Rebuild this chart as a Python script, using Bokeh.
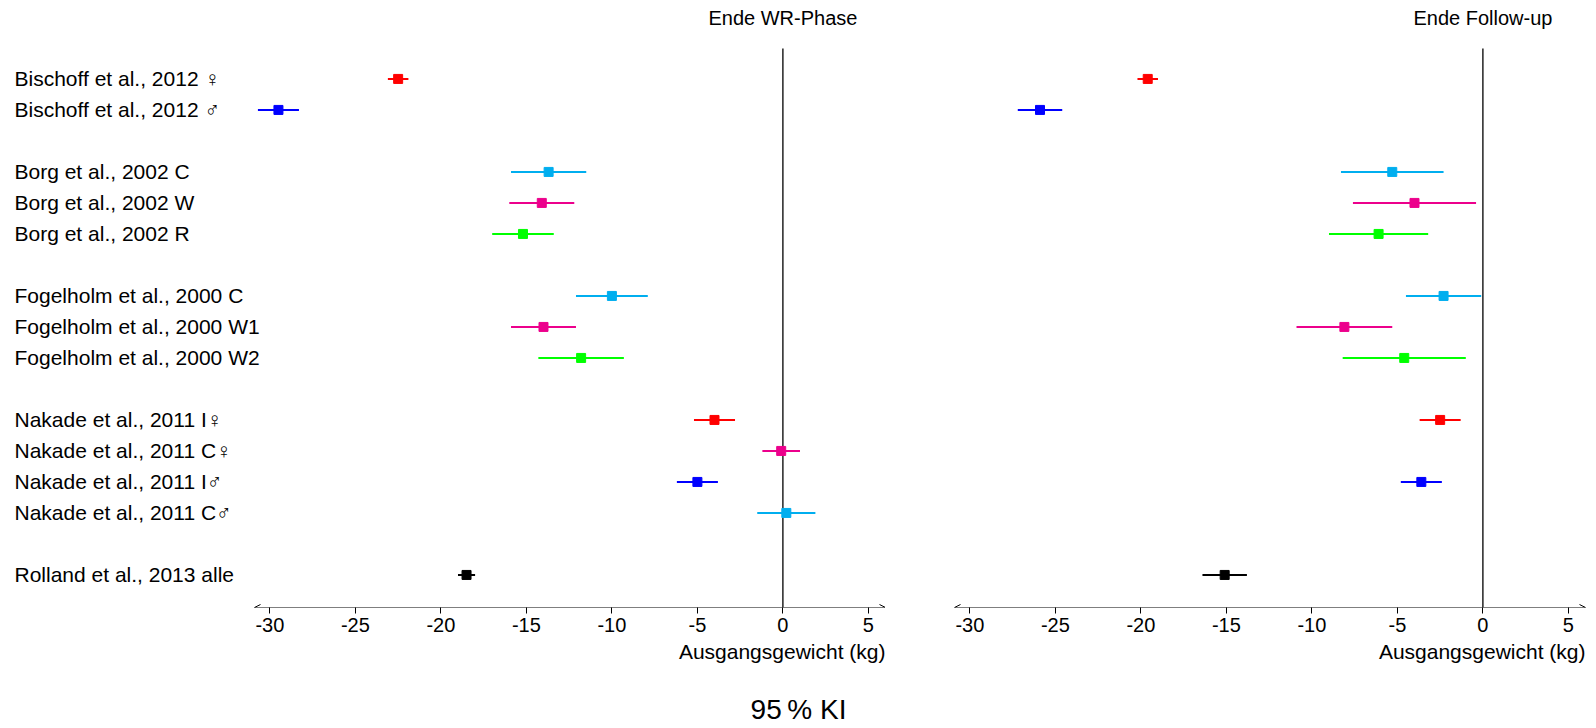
import math
from bokeh.plotting import figure
from bokeh.models import (Range1d, Arrow, OpenHead, Title, FixedTicker,
                          LinearAxis, ColumnDataSource)
from bokeh.layouts import row, column
from bokeh.core.properties import value
from bokeh.embed import file_html
from bokeh.resources import INLINE

FONT = "Liberation Sans"
nan = float("nan")

# ---------------- data ----------------
labels = ["Bischoff et al., 2012 \u2640", "Bischoff et al., 2012 \u2642",
          "Borg et al., 2002 C", "Borg et al., 2002 W", "Borg et al., 2002 R",
          "Fogelholm et al., 2000 C", "Fogelholm et al., 2000 W1", "Fogelholm et al., 2000 W2",
          "Nakade et al., 2011 I\u2640", "Nakade et al., 2011 C\u2640",
          "Nakade et al., 2011 I\u2642", "Nakade et al., 2011 C\u2642",
          "Rolland et al., 2013 alle"]
rows = [0, 1, 3, 4, 5, 7, 8, 9, 11, 12, 13, 14, 16]
colors = ["#FF0000", "#0000FF", "#00AEEF", "#EC008C", "#00FF00",
          "#00AEEF", "#EC008C", "#00FF00", "#FF0000", "#EC008C",
          "#0000FF", "#00AEEF", "#000000"]

wr_mean = [-22.5, -29.5, -13.7, -14.1, -15.2, -10.0, -14.0, -11.8, -4.0, -0.1, -5.0, 0.2, -18.5]
wr_lo   = [-23.1, -30.7, -15.9, -16.0, -17.0, -12.1, -15.9, -14.3, -5.2, -1.2, -6.2, -1.5, -19.0]
wr_hi   = [-21.9, -28.3, -11.5, -12.2, -13.4, -7.9, -12.1, -9.3, -2.8, 1.0, -3.8, 1.9, -18.0]

fu_mean = [-19.6, -25.9, -5.3, -4.0, -6.1, -2.3, -8.1, -4.6, -2.5, nan, -3.6, nan, -15.1]
fu_lo   = [-20.2, -27.2, -8.3, -7.6, -9.0, -4.5, -10.9, -8.2, -3.7, nan, -4.8, nan, -16.4]
fu_hi   = [-19.0, -24.6, -2.3, -0.4, -3.2, -0.1, -5.3, -1.0, -1.3, nan, -2.4, nan, -13.8]

tick_vals = [-30, -25, -20, -15, -10, -5, 0, 5]
tick_labels = ["-30", "-25", "-20", "-15", "-10", "-5", "0", "5"]
panel_titles = ["Ende WR-Phase", "Ende Follow-up"]
x_title = "Ausgangsgewicht (kg)"
bottom_title = "95\u2009% KI"

# ---------------- layout constants ----------------
X0, X1 = -30.9, 6.0          # span of each panel's axis
PANEL_W = 631                 # pixel width of that span
LABEL_W = 254                 # pixel width of the label column
U = (X1 - X0) / PANEL_W       # data units per pixel
XL = X0 - LABEL_W * U         # left edge of the first figure (label column)
Y0, Y1 = -17.05, 2.53
H = 690
BB = 83


def base_fig(width, xr, bl=0, br=0):
    p = figure(width=width, height=H, x_range=xr, y_range=Range1d(Y0, Y1),
               output_backend="svg", toolbar_location=None,
               x_axis_location=None, y_axis_location=None,
               min_border_left=bl, min_border_right=br,
               min_border_top=0, min_border_bottom=BB)
    p.outline_line_color = None
    p.xgrid.visible = False
    p.ygrid.visible = False
    p.background_fill_color = "white"
    p.border_fill_color = "white"
    return p


def panel(mean, lo, hi, title, width, xstart, bl, br, with_labels):
    p = base_fig(width, Range1d(xstart, X1), bl, br)
    keep = [i for i in range(len(rows)) if not math.isnan(mean[i])]
    src = ColumnDataSource(dict(
        y=[-rows[i] for i in keep], m=[mean[i] for i in keep],
        lo=[lo[i] for i in keep], hi=[hi[i] for i in keep],
        c=[colors[i] for i in keep]))
    if with_labels:
        p.text(x=[XL + 14 * U] * len(labels), y=[-r for r in rows], text=labels,
               text_align="left", text_baseline="middle",
               text_font=value(FONT), text_font_size="21px", text_color="black")
    # zero line
    p.segment(x0=[0], y0=[0.98], x1=[0], y1=[Y0], line_color="black", line_width=1.3)
    p.segment(x0="lo", y0="y", x1="hi", y1="y", line_color="c", line_width=2, source=src)
    p.scatter(x="m", y="y", marker="square", size=9, fill_color="c", line_color="c", source=src)
    p.text(x=[0], y=[1.95], text=[title], text_align="center", text_baseline="middle",
           text_font=value(FONT), text_font_size="20px", text_color="black")
    ax = LinearAxis(ticker=FixedTicker(ticks=tick_vals),
                    major_label_overrides={v: s for v, s in zip(tick_vals, tick_labels)})
    ax.axis_line_color = None
    ax.major_tick_line_color = "black"
    ax.major_tick_in = 0
    ax.major_tick_out = 6
    ax.minor_tick_line_color = None
    ax.major_label_text_font = FONT
    ax.major_label_text_font_size = "20px"
    ax.major_label_text_color = "black"
    ax.major_label_standoff = 4
    p.add_layout(ax, "below")
    p.add_layout(Title(text=x_title, align="right", text_font=FONT,
                       text_font_size="21px", text_font_style="normal",
                       text_color="black", standoff=7, offset=0), "below")
    # axis line with arrow heads at both ends
    p.add_layout(Arrow(start=OpenHead(size=6, line_width=1), end=OpenHead(size=6, line_width=1),
                       x_start=X0, x_end=X1, y_start=Y0, y_end=Y0, line_width=1.2,
                       line_color="black"))
    return p


p1 = panel(wr_mean, wr_lo, wr_hi, panel_titles[0], LABEL_W + PANEL_W, XL, 0, 0, True)
p2 = panel(fu_mean, fu_lo, fu_hi, panel_titles[1], 711, X0, 69, 11, False)

pb = figure(width=1596, height=38, x_range=Range1d(0, 1), y_range=Range1d(0, 1),
            output_backend="svg", toolbar_location=None,
            x_axis_location=None, y_axis_location=None,
            min_border=0)
pb.outline_line_color = None
pb.xgrid.visible = False
pb.ygrid.visible = False
pb.text(x=[0.5], y=[0.5], text=[bottom_title], text_align="center", text_baseline="middle",
        text_font=value(FONT), text_font_size="28px", text_color="black")

layout = column(row(p1, p2), pb)
open("out.html", "w").write(file_html(layout, INLINE))
